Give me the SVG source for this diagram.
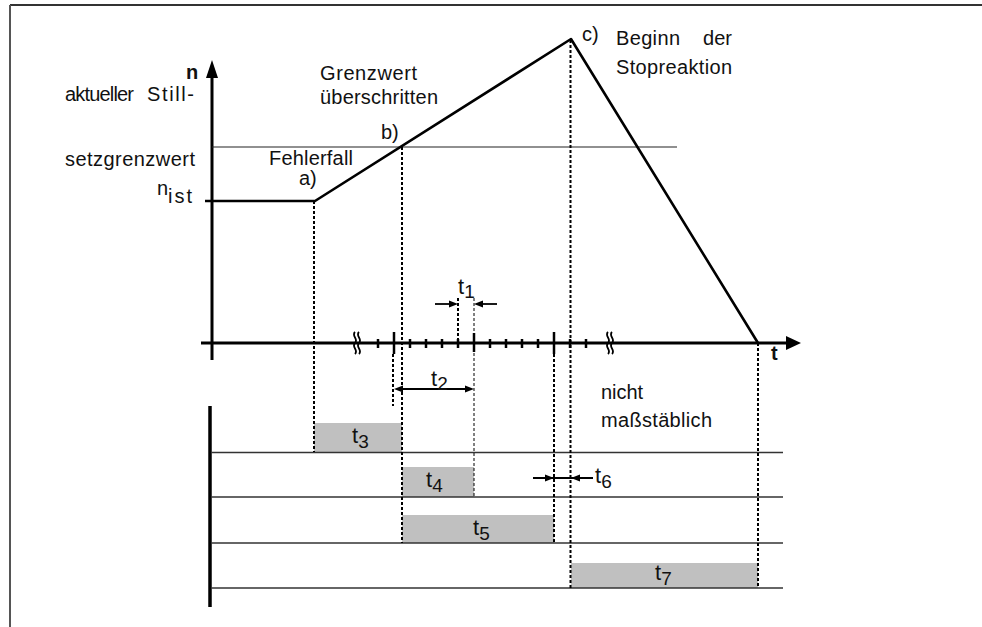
<svg xmlns="http://www.w3.org/2000/svg" width="982" height="627" viewBox="0 0 982 627">
<style>
text{font-family:"Liberation Sans",Arial,Helvetica,sans-serif;font-size:20px;fill:#111}
.b{font-weight:bold}
.tl{font-size:22px}
.sub{font-size:19px}
.axis{stroke:#000;stroke-width:3;fill:none}
.curve{stroke:#000;stroke-width:2.6;fill:none;stroke-linejoin:round}
.thin{stroke:#222;stroke-width:1.2;fill:none}
.row{stroke:#333;stroke-width:1.3;fill:none}
.dot{stroke:#000;stroke-width:2;stroke-dasharray:3 2;fill:none}
.dash{stroke:#000;stroke-width:1;stroke-dasharray:3 2;fill:none}
.tick{stroke:#000;stroke-width:2.5}
.bar{fill:#c0c0c0}
.dim{stroke:#000;stroke-width:1.8;fill:none}
.head{fill:#000}
.sq{stroke:#000;stroke-width:1.8;fill:none}
</style>
<rect x="0" y="0" width="982" height="627" fill="#fff"/>
<g id="frame">
<line x1="10" y1="5" x2="982" y2="5" stroke="#333" stroke-width="2"/>
<line x1="10" y1="5" x2="10" y2="627" stroke="#555" stroke-width="2"/>
</g>
<g id="axes">
<line class="axis" x1="212" y1="76" x2="212" y2="360"/>
<polygon class="head" points="212,60 206,78 218,78"/>
<line class="axis" x1="201" y1="343" x2="788" y2="343"/>
<polygon class="head" points="801,343 786,336 786,350"/>
<text class="b" x="186" y="79" font-size="21">n</text>
<text class="b" x="771" y="360">t</text>
</g>
<g id="breaks">
<path class="sq" d="M355,332 c-4,4 4,7 0,11 s4,7 0,11"/>
<path class="sq" d="M359,332 c-4,4 4,7 0,11 s4,7 0,11"/>
<path class="sq" d="M608,332 c-4,4 4,7 0,11 s4,7 0,11"/>
<path class="sq" d="M612,332 c-4,4 4,7 0,11 s4,7 0,11"/>
</g>
<g id="ticks">
<line class="tick" x1="378" y1="339" x2="378" y2="348"/>
<line class="tick" x1="394" y1="332" x2="394" y2="354" stroke-width="3"/>
<line class="tick" x1="410" y1="339" x2="410" y2="348"/>
<line class="tick" x1="426" y1="339" x2="426" y2="348"/>
<line class="tick" x1="442" y1="339" x2="442" y2="348"/>
<line class="tick" x1="458" y1="339" x2="458" y2="348"/>
<line class="tick" x1="474" y1="333" x2="474" y2="352" stroke-width="2"/>
<line class="tick" x1="490" y1="339" x2="490" y2="348"/>
<line class="tick" x1="506" y1="339" x2="506" y2="348"/>
<line class="tick" x1="522" y1="339" x2="522" y2="348"/>
<line class="tick" x1="538" y1="339" x2="538" y2="348"/>
<line class="tick" x1="554" y1="332" x2="554" y2="354" stroke-width="3"/>
<line class="tick" x1="570" y1="339" x2="570" y2="348"/>
<line class="tick" x1="586" y1="339" x2="586" y2="348"/>
</g>
<g id="threshold">
<line class="thin" x1="212" y1="147" x2="677" y2="147"/>
</g>
<g id="curve">
<polyline class="curve" points="205,201 315,201 571,39 758,343"/>
</g>
<g id="bars">
<rect id="bar-t3" class="bar" x="314" y="423" width="88" height="29"/>
<rect id="bar-t4" class="bar" x="402" y="467" width="72" height="30"/>
<rect id="bar-t5" class="bar" x="402" y="515" width="152" height="28"/>
<rect id="bar-t7" class="bar" x="571" y="563" width="187" height="25"/>
</g>
<g id="rows">
<line x1="210" y1="406" x2="210" y2="607" stroke="#000" stroke-width="3.5"/>
<line class="row" x1="211" y1="452.5" x2="783" y2="452.5"/>
<line class="row" x1="211" y1="497" x2="783" y2="497"/>
<line class="row" x1="211" y1="543" x2="783" y2="543"/>
<line class="row" x1="211" y1="588" x2="783" y2="588"/>
</g>
<g id="connectors">
<line class="dot" x1="314" y1="201" x2="314" y2="452"/>
<line class="dot" x1="402" y1="147" x2="402" y2="543"/>
<line class="dot" x1="393" y1="354" x2="393" y2="406"/>
<line class="dot" x1="458" y1="298" x2="458" y2="343"/>
<line class="dash" x1="474" y1="298" x2="474" y2="497"/>
<line class="dot" x1="554" y1="354" x2="554" y2="543"/>
<line class="dot" x1="570.5" y1="40" x2="570.5" y2="588"/>
<line class="dot" x1="758" y1="343" x2="758" y2="588"/>
<line class="dim" x1="435" y1="304" x2="450" y2="304"/>
<polygon class="head" points="458,304 449,300.5 449,307.5"/>
<line class="dim" x1="497" y1="304" x2="482" y2="304"/>
<polygon class="head" points="474,304 483,300.5 483,307.5"/>
<line class="dim" x1="401" y1="389" x2="466" y2="389"/>
<polygon class="head" points="394,389 403,385.5 403,392.5"/>
<polygon class="head" points="474,389 465,385.5 465,392.5"/>
<line class="dim" x1="533" y1="478" x2="593" y2="478"/>
<polygon class="head" points="554,478 545,474.5 545,481.5"/>
<polygon class="head" points="571,478 580,474.5 580,481.5"/>
</g>
<g id="labels">
<text x="65" y="101" font-size="19.5" textLength="69">aktueller</text>
<text x="147" y="101" font-size="19" textLength="47">Still-</text>
<text x="65" y="166" textLength="130">setzgrenzwert</text>
<text x="157" y="195" font-size="17">n</text>
<text x="168" y="203" textLength="24">ist</text>
<text x="269" y="165" textLength="84">Fehlerfall</text>
<text x="299" y="185">a)</text>
<text x="320" y="80" textLength="97">Grenzwert</text>
<text x="320" y="104" textLength="118">überschritten</text>
<text x="381" y="139">b)</text>
<text x="582" y="41">c)</text>
<text x="616" y="45" textLength="64">Beginn</text>
<text x="703" y="45" textLength="29">der</text>
<text x="616" y="74" textLength="116">Stopreaktion</text>
<text x="601" y="399" textLength="42">nicht</text>
<text x="601" y="427" textLength="111">maßstäblich</text>
</g>
<g id="time-labels">
<text class="tl" x="458" y="294">t<tspan class="sub" dy="4">1</tspan></text>
<text class="tl" x="431" y="386">t<tspan class="sub" dy="4">2</tspan></text>
<text class="tl" x="352" y="443">t<tspan class="sub" dy="5">3</tspan></text>
<text class="tl" x="426" y="487">t<tspan class="sub" dy="5">4</tspan></text>
<text class="tl" x="473" y="535">t<tspan class="sub" dy="5">5</tspan></text>
<text class="tl" x="595" y="483">t<tspan class="sub" dy="5">6</tspan></text>
<text class="tl" x="655" y="580">t<tspan class="sub" dy="5">7</tspan></text>
</g>
</svg>
